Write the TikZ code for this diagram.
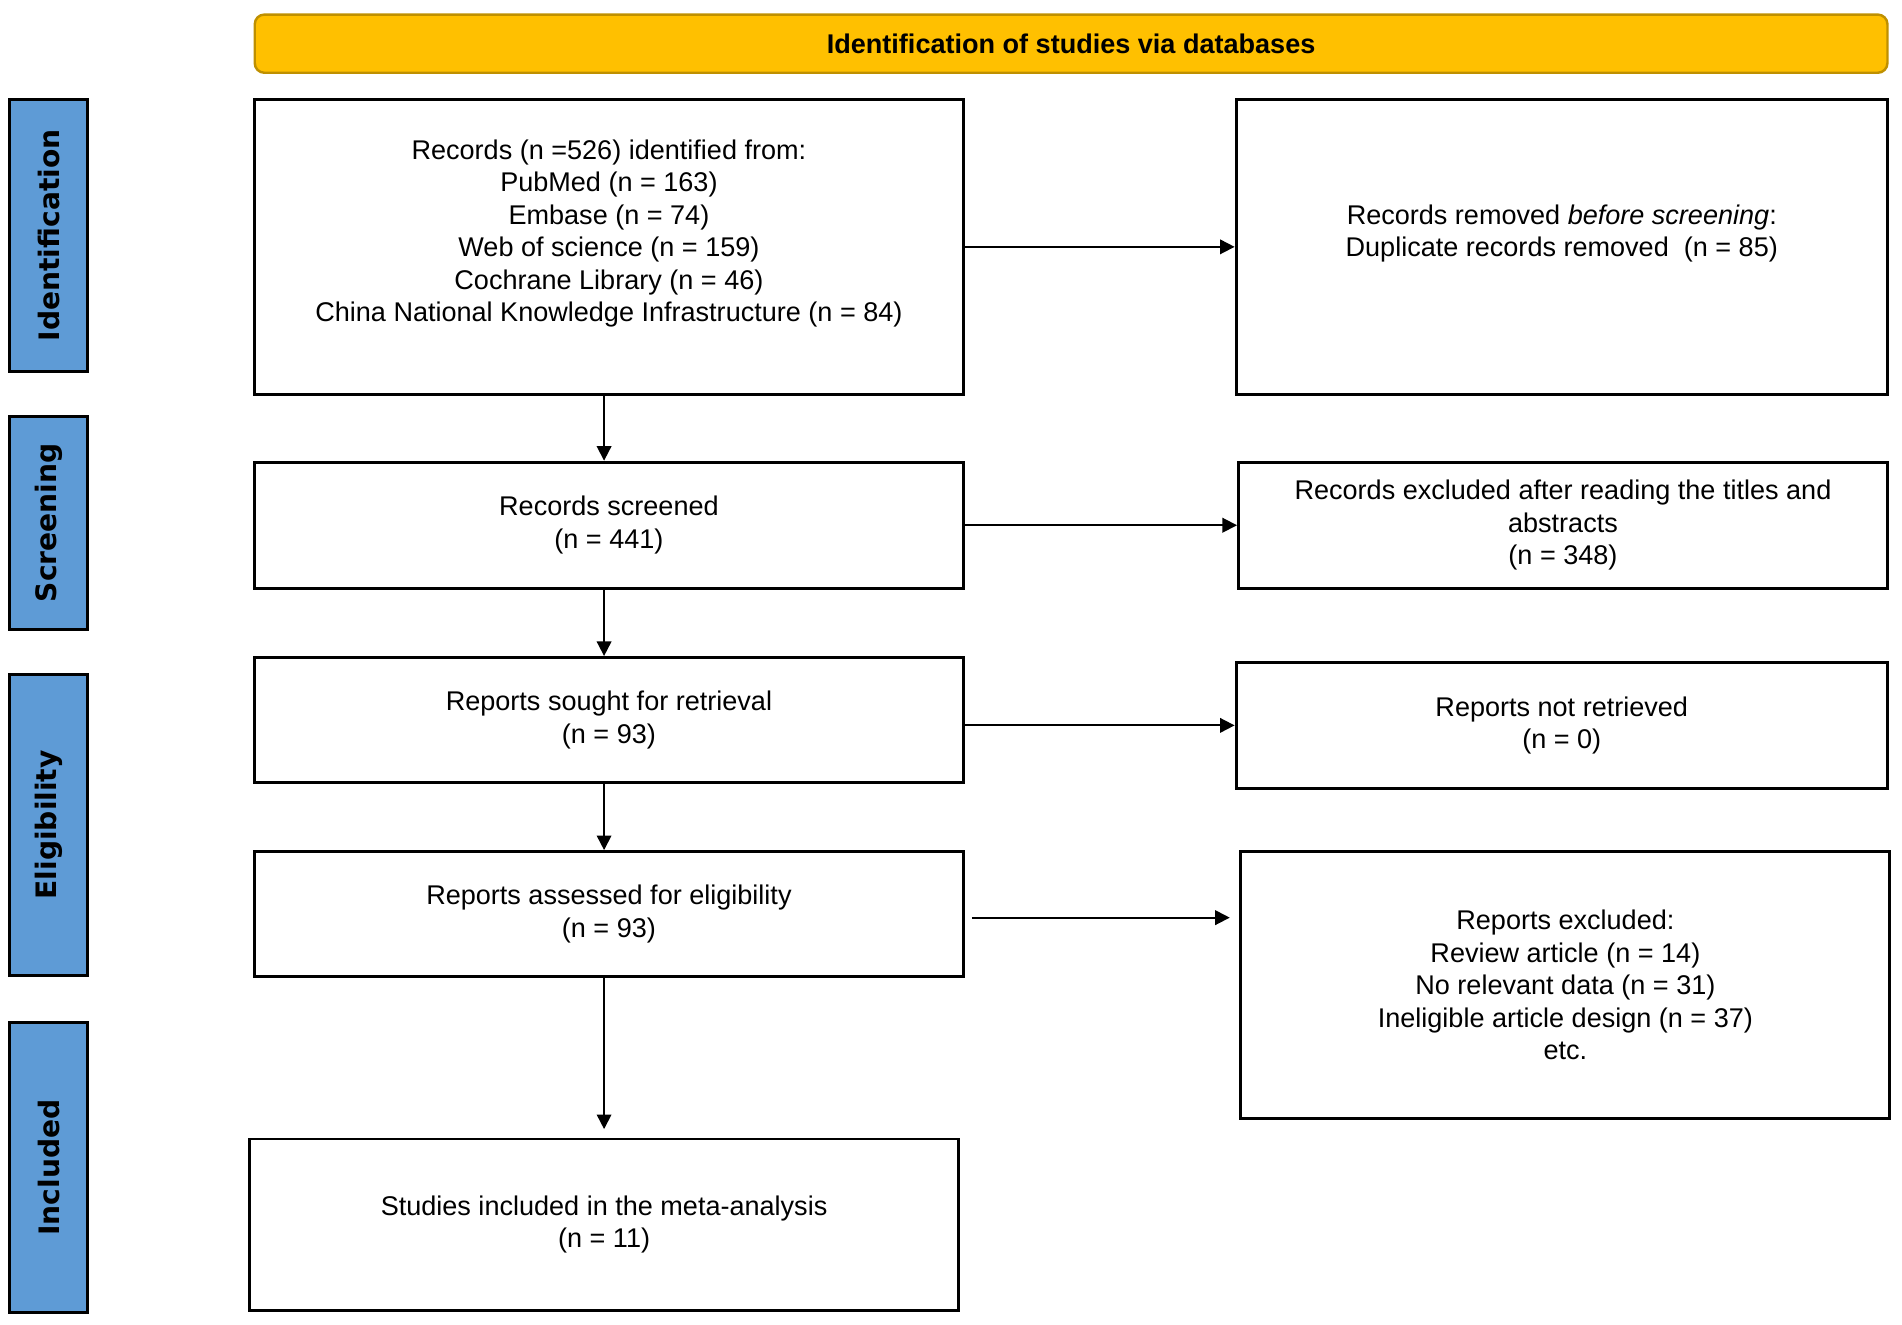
\documentclass[tikz,border=0pt]{standalone}
\usepackage{fontspec}
\setmainfont{Liberation Sans}
\newfontfamily\sidefont{DejaVu Sans}
\usetikzlibrary{arrows.meta,calc}
\definecolor{bannerfill}{HTML}{FFC000}
\definecolor{bannerdraw}{HTML}{BF9000}
\definecolor{sidefill}{HTML}{5E9BD6}
\tikzset{
  box/.style={draw=black, line width=1.2pt, fill=white, inner sep=2pt, align=center,
    font=\fontsize{11.15}{13.4}\selectfont},
  sidebar/.style={draw=black, line width=1.2pt, fill=sidefill, rotate=90, inner sep=0pt,
    font=\sidefont\bfseries\fontsize{11.6}{13}\selectfont, minimum height=32pt},
  banner/.style={draw=bannerdraw, line width=1pt, fill=bannerfill, rounded corners=4pt,
    font=\bfseries\fontsize{11.15}{13.4}\selectfont, inner sep=0pt,
    minimum width=673pt, minimum height=24pt},
  flow/.style={line width=0.75pt, -{Triangle[length=6pt,width=6pt]}}
}
\begin{document}
\begin{tikzpicture}[x=0.5pt,y=-0.5pt]
\useasboundingbox (0,0) rectangle (1568,1092);
% banner
\node[banner] (ban) at (883,36) {Identification of studies via databases};
% sidebars
\node[sidebar, minimum width=112pt] (s1) at (40,194) {Identification};
\node[sidebar, minimum width=88pt] (s2) at (40,431) {Screening};
\node[sidebar, minimum width=124pt] (s3) at (40,680) {Eligibility};
\node[sidebar, minimum width=119.5pt] (s4) at (40,962.5) {Included};
% left column
\node[box, minimum width=292pt, minimum height=121.5pt] (A) at (502,203.5)
  {Records (n =526) identified from:\\PubMed (n = 163)\\Embase (n = 74)\\Web of science (n = 159)\\Cochrane Library (n = 46)\\China National Knowledge Infrastructure (n = 84)\\\mbox{}};
\node[box, minimum width=292pt, minimum height=52pt] (B) at (502,433)
  {Records screened\\(n = 441)};
\node[box, minimum width=292pt, minimum height=51.5pt] (C) at (502,593.5)
  {Reports sought for retrieval\\(n = 93)};
\node[box, minimum width=292pt, minimum height=51.5pt] (D) at (502,753.5)
  {Reports assessed for eligibility\\(n = 93)};
\node[box, minimum width=292pt, minimum height=70.5pt] (E) at (498,1009.5)
  {Studies included in the meta-analysis\\(n = 11)};
% right column
\node[box, minimum width=268.5pt, minimum height=121.5pt] (R1) at (1287.5,203.5)
  {Records removed \textit{before screening}:\\Duplicate records removed\ \ (n = 85)\\\mbox{}};
\node[box, minimum width=267.5pt, minimum height=52pt] (R2) at (1288.5,433)
  {Records excluded after reading the titles and\\abstracts\\(n = 348)};
\node[box, minimum width=268.5pt, minimum height=52pt] (R3) at (1287.5,598)
  {Reports not retrieved\\(n = 0)};
\node[box, minimum width=267.5pt, minimum height=110pt] (R4) at (1290.5,812)
  {Reports excluded:\\Review article (n = 14)\\No relevant data (n = 31)\\Ineligible article design (n = 37)\\etc.};
% horizontal connectors
\draw[flow] (A.east) -- (R1.west);
\draw[flow] (B.east) -- (R2.west);
\draw[flow] (C.east |- R3.west) -- (R3.west);
\coordinate (d1) at ($(D.east)+(6,3)$);
\draw[flow, shorten >=4pt] (d1) -- (R4.west |- d1);
% vertical connectors
\draw[flow] (A.south -| E.north) -- (B.north -| E.north);
\draw[flow] (B.south -| E.north) -- (C.north -| E.north);
\draw[flow] (C.south -| E.north) -- (D.north -| E.north);
\draw[flow, shorten >=3.5pt] (D.south -| E.north) -- (E.north);
\end{tikzpicture}
\end{document}
